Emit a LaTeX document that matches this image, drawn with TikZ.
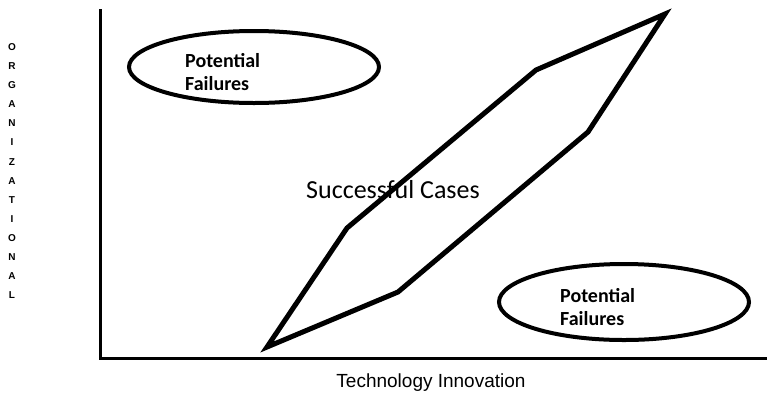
\documentclass[tikz,border=0pt]{standalone}
\usepackage{fontspec}
\usepackage{tikz}
\usetikzlibrary{shapes,arrows}
\newfontfamily\calibrifont{Carlito}
\newfontfamily\arialfont{Liberation Sans}

\tikzset{
  axisline/.style={line width=3pt, line cap=rect},
  successline/.style={line width=5pt, line join=miter},
  failzone/.style={ellipse, draw, line width=4pt, inner sep=0pt},
  failtext/.style={inner sep=0pt, align=left, anchor=north west,
    font=\calibrifont\bfseries\fontsize{20}{23}\selectfont},
  vletter/.style={inner sep=0pt, font=\arialfont\bfseries\fontsize{10}{12}\selectfont}
}

\begin{document}
\begin{tikzpicture}[x=1pt,y=-1pt]
		\useasboundingbox (0,0) rectangle (767,394);
		% axes
		\coordinate (ytop) at (100,10);
		\coordinate (origin) at (100,358);
		\coordinate (xend) at (767,358);
		\draw[axisline] (ytop) -- (origin) -- (xend);
		\foreach \ch [count=\i] in {O,R,G,A,N,I,Z,A,T,I,O,N,A,L}
			\node[vletter] (org\i) at (12,{47+19.1*(\i-1)}) {\ch};
		\node[inner sep=0pt, anchor=base, font=\arialfont\fontsize{19}{22}\selectfont] (xlabel) at (431,387) {Technology Innovation};
		% successful band
		\draw[successline] (267,347) -- (347,228) -- (536,70) -- (665,14) -- (588,132) -- (398,292) -- cycle;
		\node[inner sep=0pt, anchor=base, font=\calibrifont\fontsize{26}{30}\selectfont] (success) at (393,198) {Successful Cases};
		% failure regions
		\node[failzone, minimum width=250pt, minimum height=72pt] (failTL) at (254,67) {};
		\node[failtext] (failTLtext) at (185,53) {Potential\\Failures};
		\node[failzone, minimum width=250pt, minimum height=76pt] (failBR) at (624,302) {};
		\node[failtext] (failBRtext) at (560,288) {Potential\\Failures};
	\end{tikzpicture}
\end{document}
